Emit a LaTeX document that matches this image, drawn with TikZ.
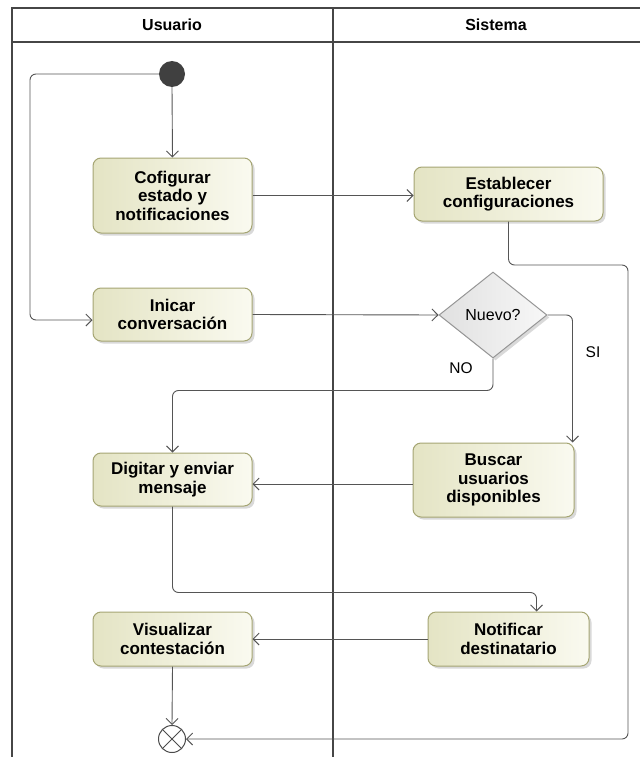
\documentclass[tikz,border=0pt]{standalone}
\usepackage{fontspec}
\setmainfont{Liberation Sans}
\usetikzlibrary{shapes.geometric,shadows,arrows.meta}
\definecolor{actL}{RGB}{228,228,196}
\definecolor{actR}{RGB}{250,250,240}
\definecolor{actB}{RGB}{165,165,115}
\definecolor{flowc}{RGB}{85,85,85}
\definecolor{laneC}{RGB}{70,70,70}
\definecolor{diaB}{RGB}{150,150,150}
\begin{document}
\begin{tikzpicture}[x=1pt,y=-1pt,
  act/.style={draw=actB, line width=1pt, rounded corners=8pt, left color=actL, right color=actR,
    drop shadow={shadow xshift=2.5pt, shadow yshift=-2.5pt, opacity=0.3},
    align=center, font=\bfseries\fontsize{17}{18.5}\selectfont, inner sep=0pt},
  flow/.style={draw=flowc, line width=0.9pt, -{Straight Barb[length=6pt,width=12pt]}, rounded corners=6pt},
  lane/.style={draw=laneC, line width=1.8pt},
  lbl/.style={font=\fontsize{15.5}{17}\selectfont},
  hdr/.style={font=\bfseries\fontsize{16}{18}\selectfont}
]
\useasboundingbox (0,0) rectangle (640,757);
% swimlanes
\draw[lane] (12,757) -- (12,8) -- (640,8);
\draw[lane] (12,42) -- (640,42);
\draw[lane] (333,8) -- (333,757);
\node[hdr] (hu) at (172,25) {Usuario};
\node[hdr] (hs) at (496,25) {Sistema};

% nodes
\node[circle, fill=black!75, minimum size=26pt, inner sep=0pt] (start) at (172,74) {};
\node[act, minimum width=159pt, minimum height=75pt] (cofig) at (172.5,195.5) {Cofigurar\\estado y\\notificaciones};
\node[act, minimum width=189pt, minimum height=54pt] (estab) at (508.5,194) {Establecer\\configuraciones};
\node[act, minimum width=159pt, minimum height=53pt] (inicar) at (172.5,314.5) {Inicar\\conversación};
\node[diamond, aspect=1.256, minimum width=108pt, minimum height=86pt, inner sep=0pt, draw=diaB, line width=1pt,
  left color=black!12, right color=black!3,
  drop shadow={shadow xshift=2.5pt, shadow yshift=-2.5pt, opacity=0.3},
  font=\fontsize{16}{18}\selectfont] (dia) at (493,315) {Nuevo?};
\node[act, minimum width=161pt, minimum height=74pt] (buscar) at (493.5,480) {Buscar\\usuarios\\disponibles};
\node[act, minimum width=159pt, minimum height=53pt] (digitar) at (172.5,479.5) {Digitar y enviar\\mensaje};
\node[act, minimum width=161pt, minimum height=54pt] (notif) at (508.5,639) {Notificar\\destinatario};
\node[act, minimum width=159pt, minimum height=54pt] (visual) at (172.5,639) {Visualizar\\contestación};
\node[circle, draw=black!70, line width=1pt, fill=white, minimum size=27pt, inner sep=0pt,
  path picture={\draw[black!70, line width=1pt] (path picture bounding box.south west) -- (path picture bounding box.north east)
    (path picture bounding box.north west) -- (path picture bounding box.south east);}] (final) at (172,739) {};

% connectors
\coordinate (loopc) at (30,320);
\draw[flow] (start.west) -| (loopc) -- (loopc -| inicar.west);
\draw[flow] (start.south) -- (cofig.north);
\draw[flow] (cofig.east) -- (cofig.east -| estab.west);
\coordinate (rc) at (628,265);
\draw[flow] (estab.south) |- (rc) |- (final.east);
\draw[flow] (inicar.east) -- (dia.west);
\draw[flow] (dia.east) -| ([xshift=-2pt]buscar.north east);
\draw[flow] (dia.south) -- ++(0,32) -| (digitar.north);
\draw[flow] (buscar.west |- 0,484) -- (digitar.east |- 0,484);
\draw[flow] (digitar.south) -- ++(0,86) -| ([xshift=28pt]notif.north);
\draw[flow] (notif.west) -- (visual.east);
\draw[flow] (visual.south) -- (final.north);

\node[lbl] (no) at (461,368) {NO};
\node[lbl] (si) at (593,352) {SI};
\end{tikzpicture}
\end{document}
